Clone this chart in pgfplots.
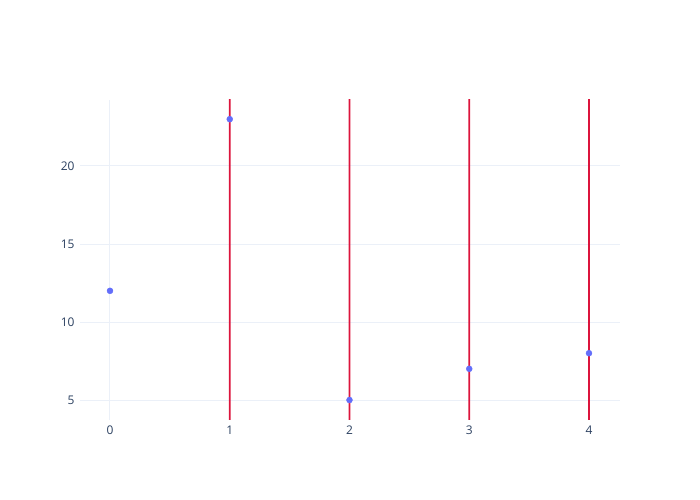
\documentclass[border=0pt]{standalone}
\usepackage{pgfplots}
\pgfplotsset{compat=1.18}
\usepackage{fontspec}
\setmainfont{Open Sans}
\definecolor{gridc}{HTML}{EBF0F8}
\definecolor{tickc}{HTML}{2A3F5F}
\definecolor{markc}{HTML}{636EFA}
\definecolor{linec}{HTML}{DC143C}
\begin{document}
\begin{tikzpicture}
\begin{axis}[
  at={(0,0)}, anchor=south west,
  scale only axis, width=540bp, height=320bp,
  xmin=-0.2505, xmax=4.259, ymin=3.72, ymax=24.23,
  xtick={0,1,2,3,4}, ytick={5,10,15,20},
  axis line style={draw=none},
  major tick length=0pt,
  grid=major,
  major grid style={gridc, line width=1bp},
  extra x ticks={0}, extra x tick labels={},
  extra x tick style={grid style={gridc, line width=2bp}},
  tick label style={font=\fontsize{12}{14}\selectfont, text=tickc},
  /pgf/number format/assume math mode=true,
  xticklabel style={yshift=-2bp},
  yticklabel style={xshift=-2bp},
]
\addplot[ybar, bar width=1.6bp, fill=linec, draw=none, forget plot] coordinates {
(1,30) (2,30) (3,30) (4,30)};
\addplot[only marks, mark=*, mark size=3bp, mark options={fill=markc, draw=markc}] coordinates {
(0,12) (1,23) (2,5) (3,7) (4,8)};
\end{axis}
\path[use as bounding box] (-80bp,-80bp) rectangle (620bp,420bp);
\end{tikzpicture}
\end{document}
